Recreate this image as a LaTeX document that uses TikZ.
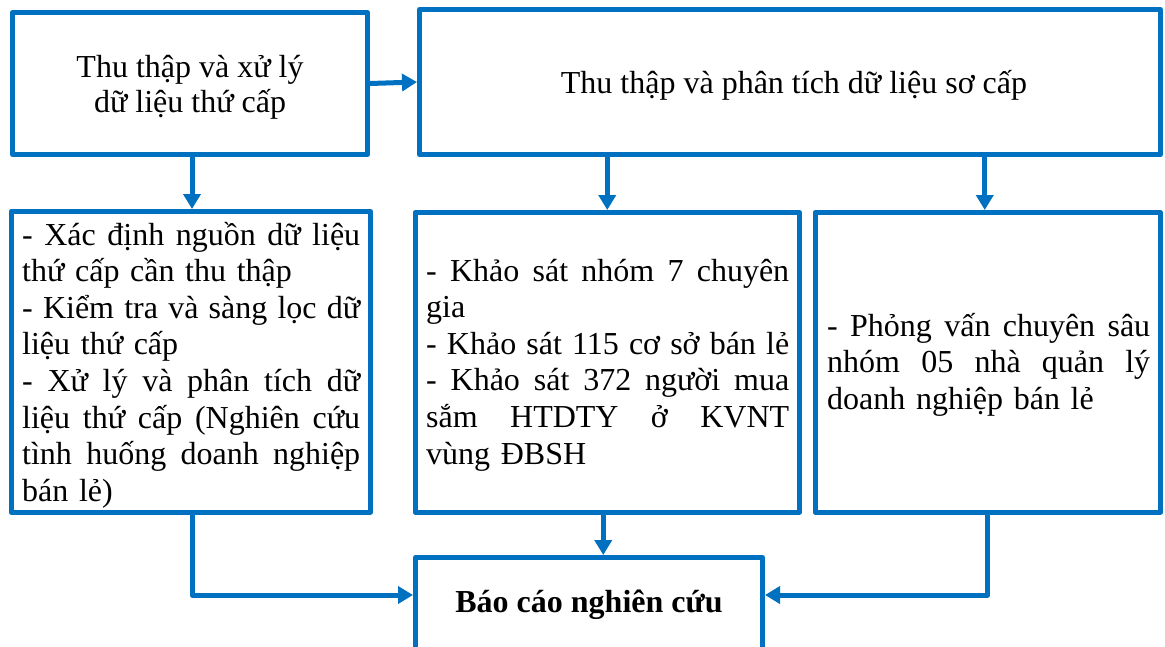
\documentclass[tikz,border=0pt]{standalone}
\usepackage{fontspec}
\setmainfont{Liberation Serif}
\usetikzlibrary{arrows.meta,calc}
\definecolor{flowblue}{RGB}{0,112,192}
% one justified line (spaces share the slack) / one flush-left line
\newcommand\jrow[1]{\noindent\hbox to \hsize{\spaceskip=0.25em plus 1fil\relax #1}\par}
\newcommand\lrow[1]{\noindent #1\par}
\newcommand\flatpar{\setlength{\parskip}{0pt}\setlength{\parindent}{0pt}}

\begin{document}
\begin{tikzpicture}[x=1pt,y=-1pt,
  box/.style={draw=flowblue, line width=5pt, line join=round, inner sep=0pt, fill=white},
  arr/.style={draw=flowblue, line width=5pt, line join=round,
              -{Triangle[width=17pt,length=15pt]}},
  head/.style={font=\fontsize{32}{35}\selectfont, inner sep=0pt, align=flush center,
               text width=340pt, anchor=base},
  body/.style={font=\fontsize{32}{36.6}\selectfont, inner sep=0pt, anchor=base west}]

\useasboundingbox (0,0) rectangle (1165,646);
\clip (0,0) rectangle (1165,646);

% top row
\node[box, minimum width=355pt, minimum height=142pt] (A) at (190,83.5) {};
\node[box, minimum width=741pt, minimum height=145pt] (B) at (790,82) {};
\node[head] (At) at (190,77) {Thu thập và xử lý\\dữ liệu thứ cấp};
\node[head, text width=700pt] (Bt) at (794,93) {Thu thập và phân tích dữ liệu sơ cấp};

% middle row
\node[box, minimum width=359.5pt, minimum height=300.5pt] (C) at (190.75,361.75) {};
\node[box, minimum width=384.5pt, minimum height=299.5pt] (D) at (607.25,362.25) {};
\node[box, minimum width=345.5pt, minimum height=299.5pt] (E) at (987.75,362.25) {};

\node[body, text width=338pt] (Ct) at (22,245) {\flatpar
  \jrow{- Xác định nguồn dữ liệu}%
  \lrow{thứ cấp cần thu thập}%
  \jrow{- Kiểm tra và sàng lọc dữ}%
  \lrow{liệu thứ cấp}%
  \jrow{- Xử lý và phân tích dữ}%
  \jrow{liệu thứ cấp (Nghiên cứu}%
  \jrow{tình huống doanh nghiệp}%
  \lrow{bán lẻ)}};

\node[body, text width=363pt] (Dt) at (426,281) {\flatpar
  \jrow{- Khảo sát nhóm 7 chuyên}%
  \lrow{gia}%
  \jrow{- Khảo sát 115 cơ sở bán lẻ}%
  \jrow{- Khảo sát 372 người mua}%
  \jrow{sắm HTDTY ở KVNT}%
  \lrow{vùng ĐBSH}};

\node[body, text width=323pt] (Et) at (827,336) {\flatpar
  \jrow{- Phỏng vấn chuyên sâu}%
  \jrow{nhóm 05 nhà quản lý}%
  \lrow{doanh nghiệp bán lẻ}};

% bottom box (runs past the lower edge)
\node[box, minimum width=347pt, minimum height=112.5pt] (F) at (589,613.75) {};
\node[font=\bfseries\fontsize{32}{36}\selectfont, inner sep=0pt, anchor=base] (Ft)
  at (589,612) {Báo cáo nghiên cứu};
\coordinate (Fmid) at (589,595);
\coordinate (Dout) at ($(D.south)+(-4,0)$);
\coordinate (Aout) at ($(A.south)+(2,0)$);
\coordinate (Ein) at ($(E.north)+(-3,0)$);

% connectors
\draw[arr] (A.east) -- (B.west);
\draw[arr] (Aout) -- (Aout |- C.north);
\draw[arr] (D.north |- B.south) -- (D.north);
\draw[arr] (Ein |- B.south) -- (Ein);
\draw[arr] (Aout |- C.south) |- (F.west |- Fmid);
\draw[arr] (Dout) -- (Dout |- F.north);
\draw[arr] (E.south) |- (F.east |- Fmid);
\end{tikzpicture}
\end{document}
